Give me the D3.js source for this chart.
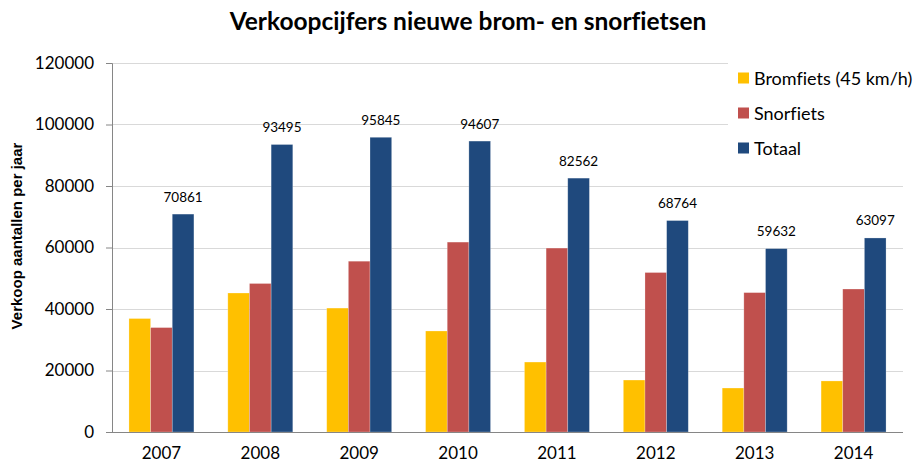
<!DOCTYPE html>
<html>
<head>
<meta charset="utf-8">
<script src="https://cdn.jsdelivr.net/npm/d3@7"></script>
<style>
  body { margin: 0; background: #fff; }
  text { font-family: Lato, "Liberation Sans", sans-serif; font-variant-ligatures: none; }
</style>
</head>
<body>
<svg id="svg" width="923" height="467"></svg>
<script>
// data
var years = ["2007", "2008", "2009", "2010", "2011", "2012", "2013", "2014"];
var bromfiets = [36900, 45200, 40300, 32850, 22750, 16900, 14300, 16600];
var snorfiets = [33961, 48295, 55545, 61757, 59812, 51864, 45332, 46497];
var totaal = [70861, 93495, 95845, 94607, 82562, 68764, 59632, 63097];
var seriesNames = ["Bromfiets (45 km/h)", "Snorfiets", "Totaal"];
var colors = ["#FFC000", "#C0504D", "#1F497D"];
var yTicks = [0, 20000, 40000, 60000, 80000, 100000, 120000];

var svg = d3.select("#svg");
var mLeft = 112, mRight = 903, mTop = 63, mBottom = 432;

var x = d3.scaleBand().domain(years).range([mLeft, mRight])
    .paddingInner(0.343).paddingOuter(0.1715);
var x1 = d3.scaleBand().domain([0, 1, 2]).range([0, x.bandwidth()]);
var y = d3.scaleLinear().domain([0, 120000]).range([mBottom, mTop]);

// gridlines
svg.append("g").selectAll("line").data(yTicks.slice(1)).enter()
    .append("line")
    .attr("x1", mLeft).attr("x2", mRight)
    .attr("y1", function(d) { return Math.round(y(d)) + 0.5; })
    .attr("y2", function(d) { return Math.round(y(d)) + 0.5; })
    .attr("stroke", "#d9d9d9").attr("stroke-width", 1);

// bars
var rows = years.map(function(yr, i) {
    return [bromfiets[i], snorfiets[i], totaal[i]];
});
var groups = svg.append("g").selectAll("g").data(rows).enter()
    .append("g")
    .attr("transform", function(d, i) { return "translate(" + x(years[i]) + ",0)"; });
groups.selectAll("rect").data(function(d) { return d; }).enter()
    .append("rect")
    .attr("x", function(d, j) { return x1(j); })
    .attr("y", function(d) { return y(d); })
    .attr("width", x1.bandwidth())
    .attr("height", function(d) { return mBottom - y(d); })
    .attr("fill", function(d, j) { return colors[j]; })
    .attr("stroke", "#ffffff").attr("stroke-opacity", 0.35).attr("stroke-width", 0.7);

// labels on the totals
groups.append("text")
    .attr("x", x1(2) + x1.bandwidth() / 2)
    .attr("y", function(d) { return y(d[2]) - 12.5; })
    .attr("text-anchor", "middle")
    .attr("font-size", 13.5)
    .attr("fill", "#000")
    .text(function(d) { return d[2]; });

// y axis
var yAxis = d3.axisLeft(y).tickValues(yTicks).tickFormat(d3.format("d"))
    .tickSize(6).tickPadding(12);
var gy = svg.append("g").attr("transform", "translate(" + mLeft + ",0)").call(yAxis);
gy.select(".domain").attr("stroke", "#868686");
gy.selectAll(".tick line").attr("stroke", "#868686");
gy.selectAll(".tick text").attr("font-size", 17).attr("fill", "#000")
    .style("font-family", "Lato, sans-serif");

// x axis
var xAxis = d3.axisBottom(x).tickSize(0).tickPadding(15);
var gx = svg.append("g").attr("transform", "translate(0," + mBottom + ")").call(xAxis);
gx.select(".domain").attr("d", "M" + (mLeft - 6) + ",0.5H" + mRight).attr("stroke", "#868686");
gx.selectAll(".tick text").attr("font-size", 17).attr("fill", "#000")
    .style("font-family", "Lato, sans-serif");

// title
svg.append("text")
    .attr("x", 468).attr("y", 30)
    .attr("text-anchor", "middle")
    .attr("font-size", 24.5).attr("font-weight", "bold")
    .text("Verkoopcijfers nieuwe brom- en snorfietsen");

// y axis title
svg.append("text")
    .attr("transform", "translate(22,236) rotate(-90)")
    .attr("text-anchor", "middle")
    .attr("font-size", 15).attr("font-weight", "bold")
    .style("font-family", "'Liberation Sans', Arial, sans-serif")
    .text("Verkoop aantallen per jaar");

// legend
var legend = svg.append("g");
legend.append("rect").attr("x", 728).attr("y", 60).attr("width", 195).attr("height", 105).attr("fill", "#fff");
var items = legend.selectAll("g").data(seriesNames).enter()
    .append("g")
    .attr("transform", function(d, i) { return "translate(738," + (78 + i * 35) + ")"; });
items.append("rect").attr("x", 0).attr("y", -5.5).attr("width", 11).attr("height", 11)
    .attr("fill", function(d, i) { return colors[i]; });
items.append("text").attr("x", 16).attr("y", 6.5)
    .attr("font-size", 18)
    .text(function(d) { return d; });
</script>
</body>
</html>
